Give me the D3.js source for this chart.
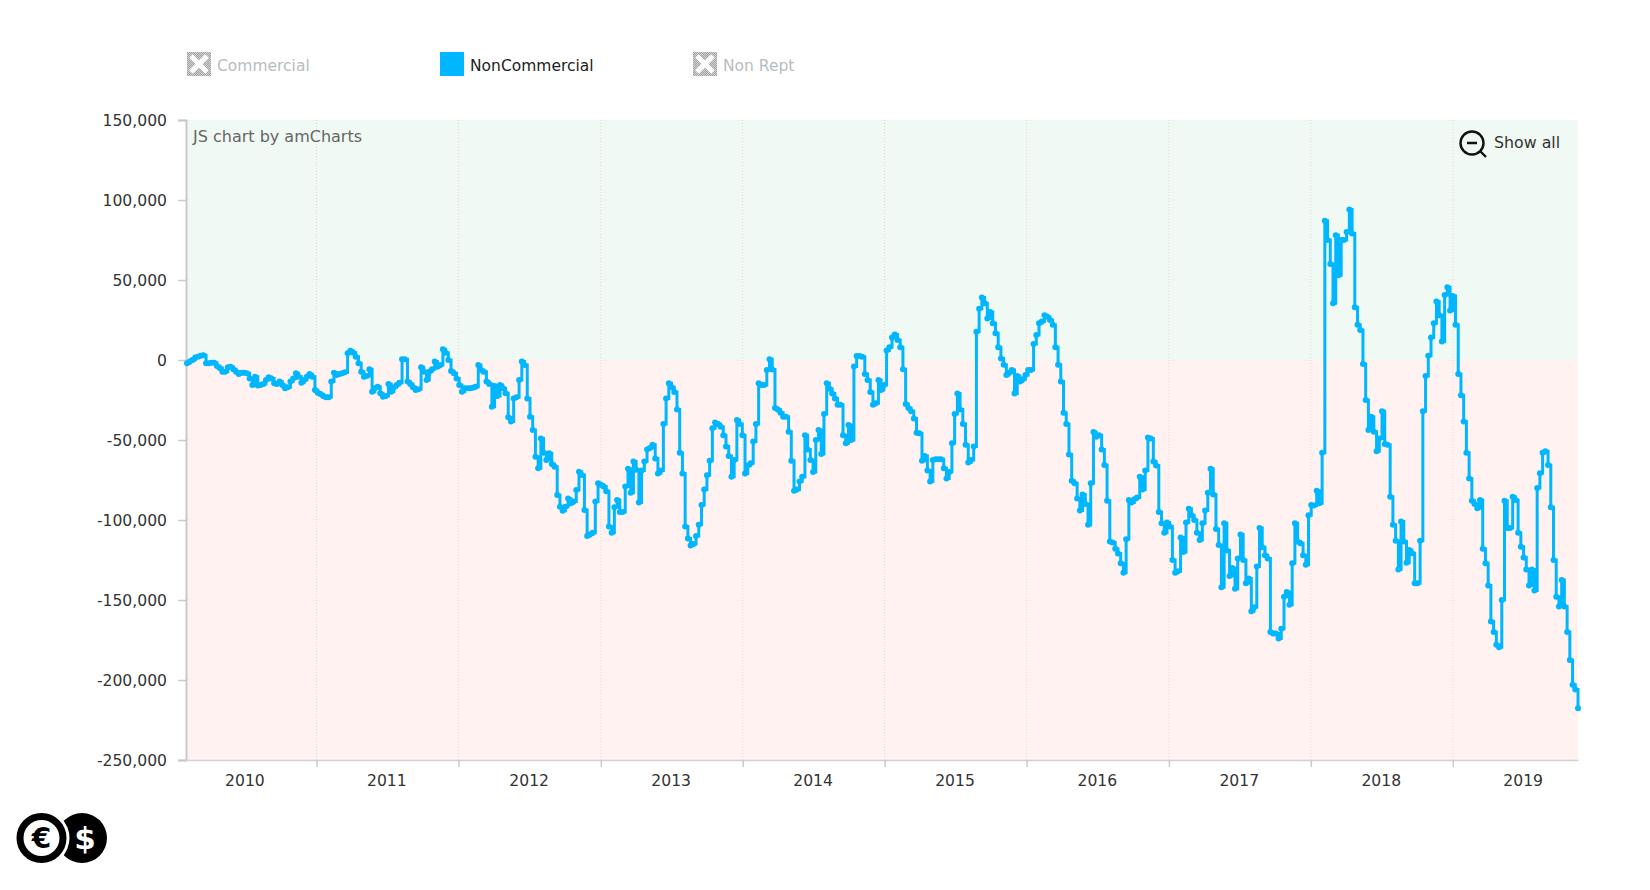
<!DOCTYPE html>
<html>
<head>
<meta charset="utf-8">
<title>NonCommercial positions</title>
<script src="https://cdn.jsdelivr.net/npm/d3@7"></script>
<style>
  html, body { margin: 0; padding: 0; background: #fff; }
  svg { display: block; }
  text { font-family: "DejaVu Sans", sans-serif; }
</style>
</head>
<body>
<svg id="chart" width="1650" height="890"></svg>
<script>
// weekly net positions, one list per year
const values2010 = [-2000,-1000,0,1500,2000,2700,3000,-2000,-2000,-1700,-1700,-3700,-5000,-7300,-7300,-4600,-4200,-5800,-7300,-8700,-7900,-7900,-8300,-11500,-15600,-10400,-16000,-15600,-15000,-12500,-10800,-11500,-14600,-15000,-13500,-15600,-17700,-17000,-13500,-11500,-8300,-10400,-14200,-12500,-10400,-8700,-10400,-18700];
const values2011 = [-20400,-21200,-22500,-23300,-23300,-13500,-7900,-9400,-8700,-8300,-7700,4200,5800,4600,2100,-2000,-7300,-10400,-10000,-5800,-19800,-17700,-16700,-20800,-22900,-22500,-15000,-19800,-17000,-15600,-14200,400,400,-13500,-15000,-17000,-18700,-18300,-4600,-7300,-12500,-7300,-5800,-1000,-4200,-3100,6700,4600,0,-6900,-8300,-11500];
const values2012 = [-15600,-19800,-17700,-17700,-17700,-17300,-16700,-3100,-6300,-7300,-13500,-15000,-29200,-16300,-22500,-15600,-17700,-20800,-35800,-38500,-24000,-23300,-12500,-1000,-3100,-24000,-35400,-43800,-60400,-67700,-49000,-58000,-62500,-58300,-65000,-66700,-84400,-91700,-94200,-91700,-86500,-89600,-88500,-81300,-69800,-71900,-93800,-110000,-109000,-108000,-88500,-77000];
const values2013 = [-78000,-79000,-82000,-104000,-108000,-92000,-87500,-95000,-95000,-79000,-68000,-83000,-63500,-68600,-89000,-69000,-63500,-56000,-55000,-53000,-61500,-71000,-69000,-40000,-24000,-14600,-17000,-20000,-31000,-58000,-71000,-104000,-111500,-116000,-115000,-110000,-103000,-90600,-81000,-72000,-63000,-42700,-39000,-40000,-41700,-47000,-54000,-60000,-73000,-62500,-37500,-40000,-47000];
const values2014 = [-71000,-66000,-64600,-51000,-40000,-14600,-15600,-15600,-6300,400,-6000,-30000,-31000,-33000,-35400,-35400,-44800,-63000,-81700,-81000,-76000,-73000,-47000,-56000,-62500,-70000,-50000,-43800,-58800,-33800,-14600,-18000,-21000,-24000,-28000,-28000,-47000,-52000,-40600,-50000,-4000,2500,2500,2000,-8800,-12500,-20000,-28000,-27000,-12500,-18800,-15600];
const values2015 = [6000,8000,14000,16000,12500,8000,-5800,-27500,-30000,-32000,-36500,-45400,-45800,-63000,-60000,-69000,-76000,-62500,-62000,-62000,-62000,-67700,-74000,-70000,-52000,-33800,-21000,-31000,-40000,-53000,-64000,-62500,-54000,17700,32000,39000,35400,26000,30000,23000,16700,8000,1000,-3000,-9400,-8000,-6300,-21000,-10000,-13500,-12000,-9400];
const values2016 = [-6300,-6300,10000,15600,23000,24000,28000,27000,25000,22000,8000,-3000,-13500,-33000,-40000,-59000,-75400,-77000,-86500,-94000,-84000,-90000,-103000,-77000,-45000,-48000,-47000,-56000,-65600,-88000,-113500,-114000,-118000,-121000,-127000,-133000,-112000,-87500,-89000,-87000,-86000,-73000,-81000,-69000,-48500,-49000,-63500,-66000,-95000,-102000,-108000,-101500];
const values2017 = [-104000,-125000,-133000,-132000,-111000,-120000,-101500,-93000,-97000,-100000,-108000,-112500,-102000,-94000,-83000,-68000,-84000,-105600,-115600,-142000,-102000,-119000,-135000,-130000,-143000,-124000,-109000,-125000,-139600,-136500,-157000,-154600,-129000,-105000,-117000,-122000,-124000,-170000,-171000,-171000,-174000,-168000,-148000,-145000,-153000,-127000,-102000,-113500,-114600,-122000,-128000,-97000];
const values2018 = [-90600,-91000,-81700,-89600,-58000,87000,75000,60000,35400,78000,53000,75000,75000,80000,94000,79000,33000,22000,18800,-2500,-25000,-43800,-35400,-44800,-57000,-49000,-32000,-52500,-53000,-85400,-103000,-113000,-131000,-101000,-113500,-126700,-118800,-120800,-139600,-139600,-113000,-32000,-10000,2700,14000,23000,36500,28000,11500,40600,45400,31000];
const values2019 = [40000,22000,-8800,-22000,-38500,-58000,-74000,-88000,-90000,-92700,-87500,-118000,-127000,-141000,-163500,-170000,-178000,-179600,-150000,-88000,-105000,-105000,-85400,-87500,-108000,-116700,-123500,-131000,-141000,-131000,-144000,-80000,-70800,-58000,-57000,-65600,-92000,-125000,-148000,-154000,-137500,-154000,-170000,-187500,-203000,-206000,-217700];

const yearLabels = ["2010","2011","2012","2013","2014","2015","2016","2017","2018","2019"];
const yTicks = [150000,100000,50000,0,-50000,-100000,-150000,-200000,-250000];
const legendNames = ["Commercial","NonCommercial","Non Rept"];
const legendShown = [false,true,false];

const lineColor = "#00b7ff";
const plotLeft = 187, plotRight = 1578, plotTop = 120, plotBottom = 760;

const netValues = [].concat(values2010,values2011,values2012,values2013,values2014,values2015,values2016,values2017,values2018,values2019);
const firstWeek = new Date(Date.UTC(2010,1,2));
const points = netValues.map(function(v,i){ return {date: d3.utcDay.offset(firstWeek,7*i), value: v}; });

const x = d3.scaleUtc()
  .domain(d3.extent(points,function(d){ return d.date; }))
  .range([plotLeft,plotRight]);
const y = d3.scaleLinear().domain([-250000,150000]).range([plotBottom,plotTop]);

const svg = d3.select("#chart");

// dithered fill of the switched off legend boxes
const hatch = svg.append("defs").append("pattern")
  .attr("id","hatch").attr("width",2).attr("height",2).attr("patternUnits","userSpaceOnUse");
hatch.append("rect").attr("width",2).attr("height",2).attr("fill","#d4d4d4");
hatch.append("rect").attr("width",1).attr("height",1).attr("fill","#a0a0a0");
hatch.append("rect").attr("x",1).attr("y",1).attr("width",1).attr("height",1).attr("fill","#a0a0a0");

// green above zero, red below
svg.append("rect").attr("x",plotLeft).attr("y",y(150000)).attr("width",plotRight-plotLeft).attr("height",y(0)-y(150000)).attr("fill","#f0f9f3");
svg.append("rect").attr("x",plotLeft).attr("y",y(0)).attr("width",plotRight-plotLeft).attr("height",y(-250000)-y(0)).attr("fill","#fff2f1");

const yearStarts = yearLabels.slice(1).map(function(s){ return new Date(Date.UTC(+s,0,1)); });

// grid
svg.append("g").selectAll("line").data(yearStarts).join("line")
  .attr("x1",function(d){ return x(d); }).attr("x2",function(d){ return x(d); })
  .attr("y1",plotTop).attr("y2",plotBottom)
  .attr("stroke","#e3d9c8").attr("stroke-width",1).attr("stroke-dasharray","1,2");
svg.append("g").selectAll("line").data(yTicks).join("line")
  .attr("x1",plotLeft).attr("x2",plotRight)
  .attr("y1",function(d){ return y(d); }).attr("y2",function(d){ return y(d); })
  .attr("stroke","#000").attr("stroke-opacity",0.02);

// axes
const groupThousands = d3.format(",");
const yAxis = svg.append("g").attr("transform","translate("+(plotLeft-1)+",0)")
  .call(d3.axisLeft(y).tickValues(yTicks).tickSize(8).tickPadding(11)
    .tickFormat(function(d){ return groupThousands(d).replace("\u2212","-"); }));
const xAxis = svg.append("g").attr("transform","translate(0,"+plotBottom+")")
  .call(d3.axisBottom(x).tickValues(yearStarts).tickSize(7).tickSizeOuter(0).tickFormat(""));
yAxis.selectAll("path").attr("stroke","#c9c9c9").attr("stroke-width",2);
xAxis.selectAll("path").attr("stroke","#d2d2d2").attr("stroke-width",1.5);
svg.selectAll(".tick line").attr("stroke","#c9c9c9").attr("stroke-width",1.5);
yAxis.selectAll("text").attr("font-size",15.6).attr("fill","#333").attr("font-family","'DejaVu Sans'");

// year names sit in the middle of the year
svg.append("g").selectAll("text").data(yearLabels).join("text")
  .attr("x",function(d){ return x(new Date(Date.UTC(+d,6,1))); })
  .attr("y",786)
  .attr("text-anchor","middle").attr("font-size",15.6).attr("fill","#333")
  .text(function(d){ return d; });

// series
svg.append("path").datum(points)
  .attr("fill","none").attr("stroke",lineColor).attr("stroke-width",3)
  .attr("d",d3.line().x(function(d){ return x(d.date); }).y(function(d){ return y(d.value); }).curve(d3.curveStepAfter));
svg.append("g").selectAll("circle").data(points).join("circle")
  .attr("cx",function(d){ return x(d.date); })
  .attr("cy",function(d){ return y(d.value); })
  .attr("r",3).attr("fill",lineColor);

// legend
const legendX = [187,440,693];
const legend = svg.append("g").selectAll("g").data(legendNames).join("g")
  .attr("transform",function(d,i){ return "translate("+legendX[i]+",52)"; });
legend.append("rect").attr("width",24).attr("height",24)
  .attr("fill",function(d,i){ return legendShown[i] ? lineColor : "url(#hatch)"; });
legend.filter(function(d,i){ return !legendShown[i]; }).append("path")
  .attr("d","M4,4L20,20M20,4L4,20").attr("stroke","#fff").attr("stroke-width",5).attr("fill","none");
legend.append("text").attr("x",30).attr("y",19).attr("font-size",15.5)
  .attr("fill",function(d,i){ return legendShown[i] ? "#222" : "#b6bdc1"; })
  .text(function(d){ return d; });

svg.append("text").attr("x",193).attr("y",142).attr("font-size",16).attr("fill","#666").text("JS chart by amCharts");

// zoom out button
const zoomOut = svg.append("g").attr("transform","translate(1472,143)");
zoomOut.append("circle").attr("r",11.5).attr("fill","none").attr("stroke","#111").attr("stroke-width",2.4);
zoomOut.append("path").attr("d","M-5,0H5M8,8L14,14").attr("stroke","#111").attr("stroke-width",2.4).attr("fill","none");
svg.append("text").attr("x",1494).attr("y",148).attr("font-size",15.8).attr("fill","#333").text("Show all");

// logo
const logo = svg.append("g").attr("transform","translate(0,838)");
logo.append("circle").attr("cx",82).attr("r",25).attr("fill","#000");
logo.append("circle").attr("cx",41.5).attr("r",28).attr("fill","#fff");
logo.append("circle").attr("cx",41.5).attr("r",21.5).attr("fill","#fff").attr("stroke","#000").attr("stroke-width",7);
logo.append("text").attr("x",41.5).attr("y",10).attr("text-anchor","middle").attr("font-size",28).attr("font-weight","bold").attr("fill","#000").text("€");
logo.append("text").attr("x",85).attr("y",11).attr("text-anchor","middle").attr("font-size",31).attr("font-weight","bold").attr("fill","#fff").text("$");
</script>
</body>
</html>
